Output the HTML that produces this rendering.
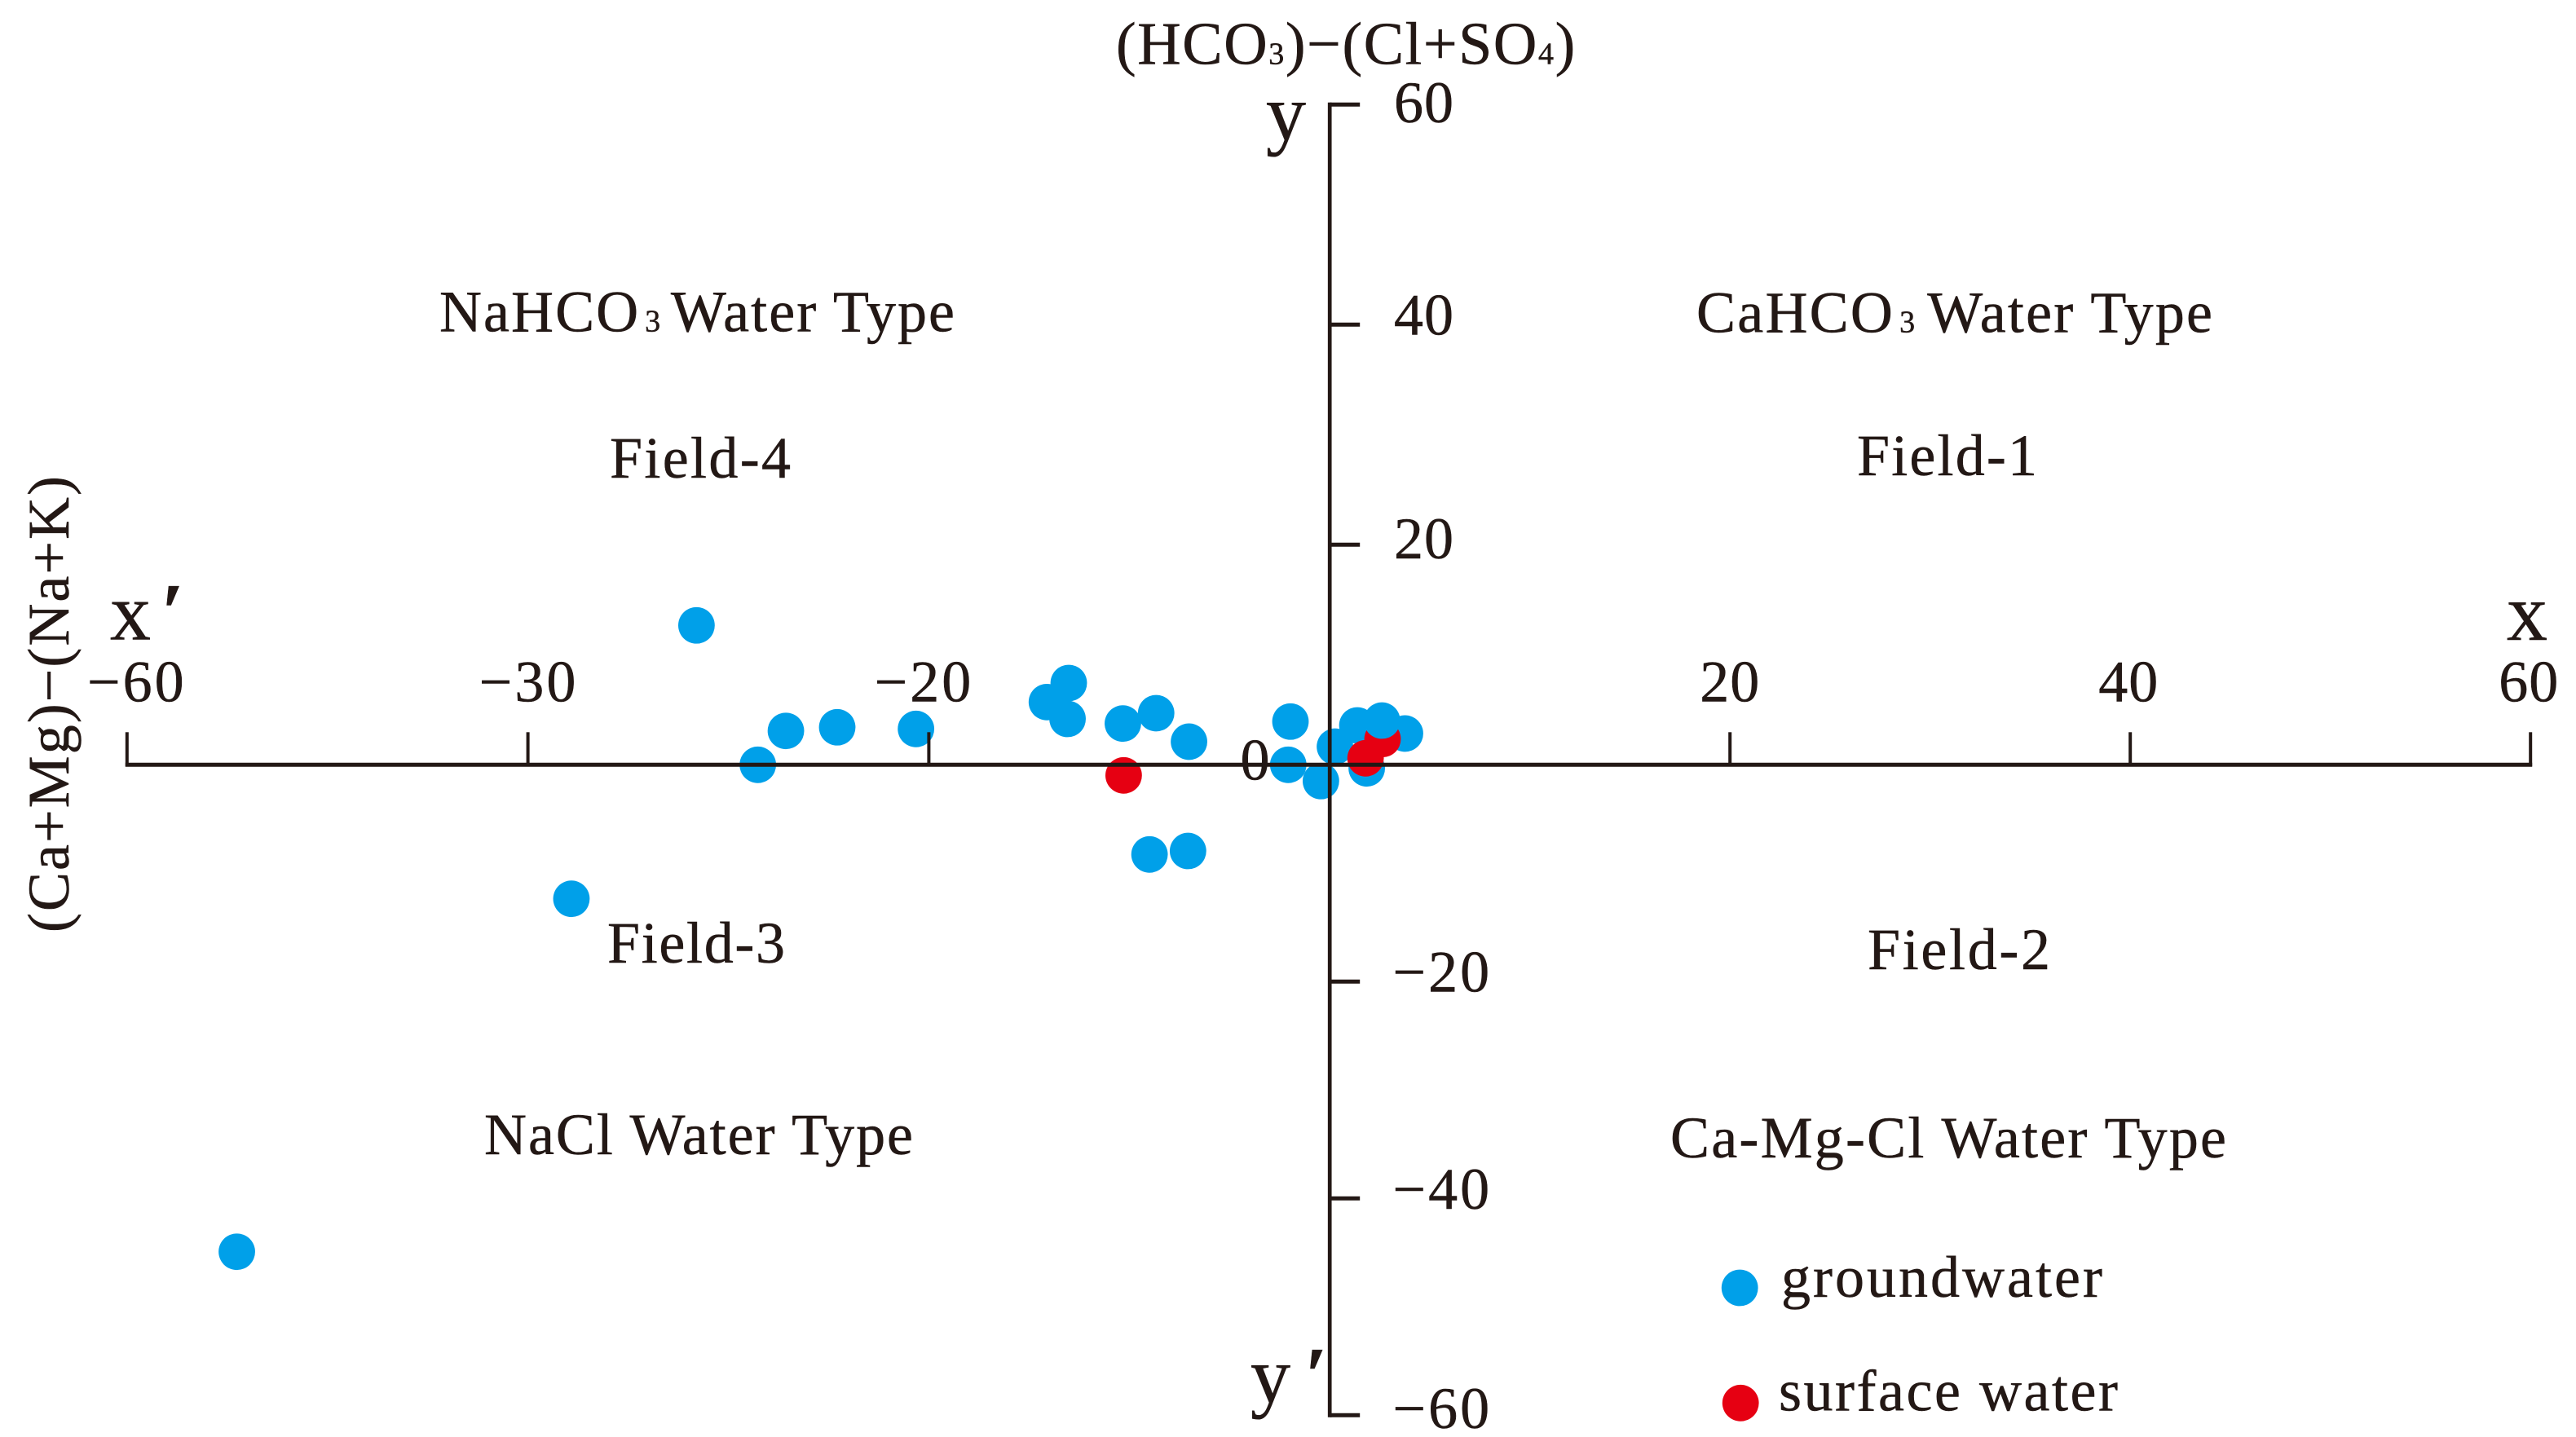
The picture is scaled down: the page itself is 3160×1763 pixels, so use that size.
<!DOCTYPE html>
<html>
<head>
<meta charset="utf-8">
<title>Water type scatter chart</title>
<style>
html,body{margin:0;padding:0;background:#fff}
svg{display:block}
text{font-family:"Liberation Serif",serif;fill:#231815;font-size:72px;stroke:#231815;stroke-width:.5px}
</style>
</head>
<body>
<svg id="chart" xmlns="http://www.w3.org/2000/svg" width="3160" height="1763" viewBox="0 0 3160 1763">
<rect x="0" y="0" width="3160" height="1763" fill="#fff"/>
<g id="marks"></g>
<g id="axes"></g>
<g id="ticklabels"></g>

<text x="1369" y="78.7" font-size="74" style="font-size:74px;letter-spacing:1.6px">(HCO<tspan style="font-size:38px">3</tspan>)−(Cl+SO<tspan style="font-size:38px">4</tspan>)</text>
<text transform="translate(84.2,1144) rotate(-90)" textLength="560" lengthAdjust="spacing">(Ca+Mg)−(Na+K)</text>

<text x="135" y="784.6" style="font-size:100px">x<tspan dx="13" style="font-weight:bold">′</tspan></text>
<text x="3075" y="785" style="font-size:100px">x</text>
<text x="1553" y="170.8" style="font-size:98px">y</text>
<text x="1534" y="1720" style="font-size:98px">y<tspan dx="18" style="font-weight:bold">′</tspan></text>

<text x="539" y="406.5" textLength="632" lengthAdjust="spacing">NaHCO<tspan dx="6" style="font-size:38px">3</tspan><tspan dx="-8"> Water Type</tspan></text>
<text x="748" y="586" textLength="222" lengthAdjust="spacing">Field-4</text>
<text x="2081" y="407.5" textLength="633" lengthAdjust="spacing">CaHCO<tspan dx="6" style="font-size:38px">3</tspan><tspan dx="-6"> Water Type</tspan></text>
<text x="2278" y="583" textLength="221" lengthAdjust="spacing">Field-1</text>
<text x="745" y="1181" textLength="218" lengthAdjust="spacing">Field-3</text>
<text x="594" y="1416" textLength="526" lengthAdjust="spacing">NaCl Water Type</text>
<text x="2291" y="1189" textLength="224" lengthAdjust="spacing">Field-2</text>
<text x="2049" y="1420" textLength="682" lengthAdjust="spacing">Ca-Mg-Cl Water Type</text>

<g>
<circle cx="2134.2" cy="1580" r="22.4" fill="#00a0e9"/>
<text x="2185" y="1591" textLength="394" lengthAdjust="spacing">groundwater</text>
<circle cx="2135.2" cy="1721.3" r="22.4" fill="#e60012"/>
<text x="2182" y="1730.5" textLength="416" lengthAdjust="spacing">surface water</text>
</g>
</svg>
<script>
const groundwaterX = [-31.59,-28.53,-27.13,-24.57,-20.64,-14.11,-13.02,-13.08,-10.32,-8.66,-7.02,-1.96,-2.07,-0.44,0.26,1.38,3.76,1.85,-37.83,-54.52,-8.99,-7.07,2.61];
const groundwaterY = [12.67,0,3.08,3.41,3.26,5.70,7.43,4.17,3.75,4.69,2.10,3.93,0,-1.50,1.65,3.58,2.84,-0.33,-12.36,-44.92,-8.27,-7.95,4.02];
const surfaceX = [-10.28,1.79,2.64];
const surfaceY = [-0.98,0.59,2.34];
const xTickValues = [-60,-40,-20,20,40,60];
const xTickLabels = ['−60','−30','−20','20','40','60'];
const yTickValues = [60,40,20,-20,-40,-60];
const yTickLabels = ['60','40','20','−20','−40','−60'];
const originLabel = '0';

const NS = 'http://www.w3.org/2000/svg';
const INK = '#231815';
const BLUE = '#00a0e9';
const RED = '#e60012';
const AX0 = 1631.2;
const AY0 = 938.3;
function xScale(v){ return AX0 + v * (v < 0 ? 24.59 : 24.55); }
function yScale(v){ return AY0 - v * (v > 0 ? 13.5 : 13.3); }

const marks = document.getElementById('marks');
const axes = document.getElementById('axes');
const labels = document.getElementById('ticklabels');

function makeDot(x, y, fill){
  const c = document.createElementNS(NS, 'circle');
  c.setAttribute('cx', xScale(x));
  c.setAttribute('cy', yScale(y));
  c.setAttribute('r', 22.4);
  c.setAttribute('fill', fill);
  marks.appendChild(c);
  return c;
}
function makeLine(x1, y1, x2, y2, w){
  const l = document.createElementNS(NS, 'line');
  l.setAttribute('x1', x1);
  l.setAttribute('y1', y1);
  l.setAttribute('x2', x2);
  l.setAttribute('y2', y2);
  l.setAttribute('stroke', INK);
  l.setAttribute('stroke-width', w);
  axes.appendChild(l);
  return l;
}
function makeLabel(str, x, y, anchor){
  const t = document.createElementNS(NS, 'text');
  t.setAttribute('x', x);
  t.setAttribute('y', y);
  t.setAttribute('text-anchor', anchor);
  t.style.letterSpacing = str.charAt(0) === '−' ? '3px' : '1px';
  t.textContent = str;
  labels.appendChild(t);
  return t;
}

const lastGround = groundwaterX.length - 1;
groundwaterX.forEach(function(x, i){
  if (i === lastGround) return;
  const d = makeDot(x, groundwaterY[i], BLUE);
  
  
});
surfaceX.forEach(function(x, i){
  const d = makeDot(x, surfaceY[i], RED);
  
  
});
const topDot = makeDot(groundwaterX[lastGround], groundwaterY[lastGround], BLUE);



const xAxisLine = makeLine(xScale(-60) - 2, AY0, xScale(60) + 2, AY0, 5);


const yAxisLine = makeLine(AX0, yScale(60) - 2.5, AX0, yScale(-60) + 2.5, 4.7);



const xLabelShift = [12, 1, -6, 0, -2, -2];
xTickValues.forEach(function(v, i){
  const px = xScale(v);
  const tick = makeLine(px, AY0 - 40, px, AY0 + 2, 4);
  
  
  const lab = makeLabel(xTickLabels[i], px + xLabelShift[i], 860.5, 'middle');
  
  
});

const yLabelShift = [21.7, 12.4, 16.7, 12.4, 12.7, 15.7];
yTickValues.forEach(function(v, i){
  const py = yScale(v);
  const tick = makeLine(AX0, py, AX0 + 37, py, 5);
  
  
  const lab = makeLabel(yTickLabels[i], v < 0 ? 1708.5 : 1710, py + yLabelShift[i], 'start');
  
  
});

const origin = makeLabel(originLabel, 1521.5, AY0 + 18.4, 'start');


</script>
</body>
</html>
